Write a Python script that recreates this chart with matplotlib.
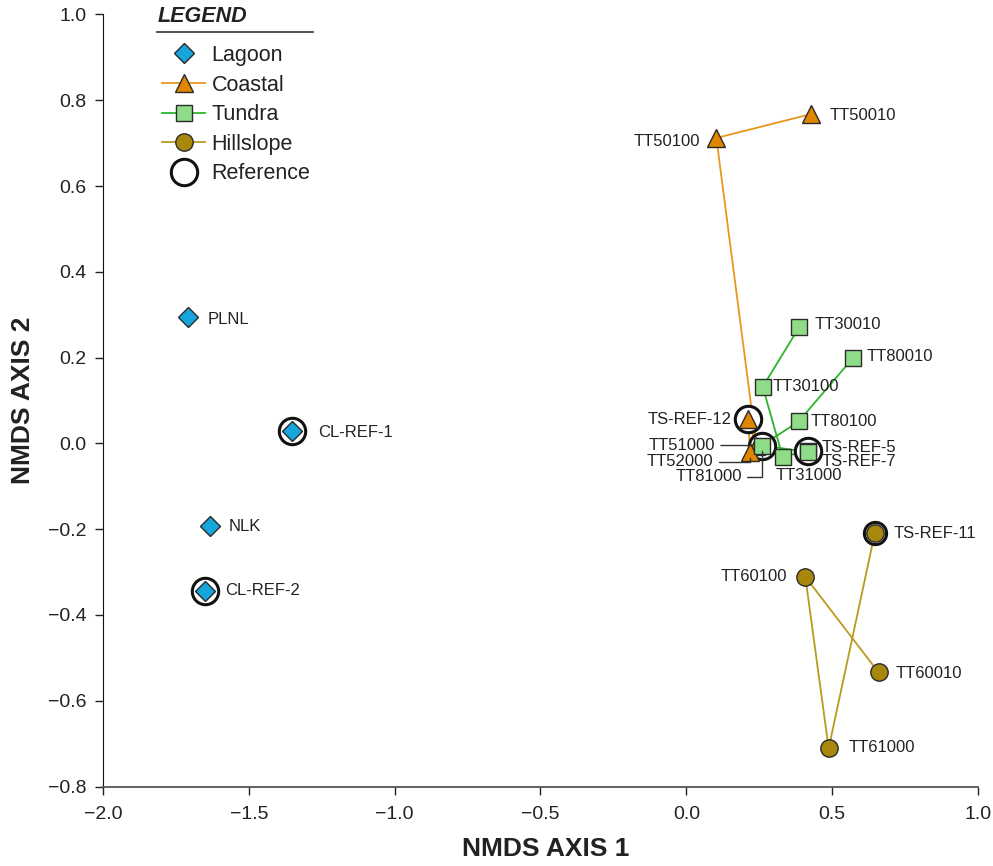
import matplotlib.pyplot as plt
from matplotlib.lines import Line2D

plt.rcParams['font.family'] = ['Liberation Sans', 'DejaVu Sans']

# NMDS site scores by habitat group
lagoon_sites = ['PLNL', 'CL-REF-1', 'NLK', 'CL-REF-2']
lagoon_x = [-1.707, -1.351, -1.632, -1.649]
lagoon_y = [0.295, 0.029, -0.192, -0.344]

coastal_sites = ['TT50010', 'TT50100', 'TT51000', 'TS-REF-12', 'TT52000']
coastal_x = [0.429, 0.103, 0.240, 0.211, 0.219]
coastal_y = [0.768, 0.712, -0.005, 0.056, -0.020]

tundra_sites = ['TT30010', 'TT30100', 'TT31000', 'TS-REF-5',
                'TT80010', 'TT80100', 'TT81000', 'TS-REF-7']
tundra_x = [0.388, 0.262, 0.330, 0.417, 0.570, 0.385, 0.259, 0.417]
tundra_y = [0.272, 0.132, -0.031, -0.018, 0.198, 0.051, -0.005, -0.020]

hill_sites = ['TT60010', 'TT60100', 'TT61000', 'TS-REF-11']
hill_x = [0.659, 0.408, 0.488, 0.646]
hill_y = [-0.534, -0.311, -0.711, -0.210]

# sites joined by lines (in order) within a group
coastal_chains = [['TT50010', 'TT50100', 'TT51000', 'TS-REF-12', 'TT52000']]
tundra_chains = [['TT30010', 'TT30100', 'TT31000', 'TS-REF-5'],
                 ['TT80010', 'TT80100', 'TT81000', 'TS-REF-7']]
hill_chains = [['TT60010', 'TT60100', 'TT61000', 'TS-REF-11']]

# sites circled as reference
circled = ['CL-REF-1', 'CL-REF-2', 'TS-REF-12', 'TS-REF-5', 'TT81000']

groups = [
    # name, sites, x, y, chains, marker, size, face, line colour
    ('Lagoon', lagoon_sites, lagoon_x, lagoon_y, [], 'D', 10.5, '#16a5dd', None),
    ('Coastal', coastal_sites, coastal_x, coastal_y, coastal_chains, '^', 13, '#e08600', '#e8961c'),
    ('Tundra', tundra_sites, tundra_x, tundra_y, tundra_chains, 's', 12, '#8fdc88', '#2cb52c'),
    ('Hillslope', hill_sites, hill_x, hill_y, hill_chains, 'o', 12.5, '#a8880c', '#b99b20'),
]

# label placement: offset in pixels and alignment
label_pos = {
    'PLNL': (19, -3, 'left'), 'CL-REF-1': (26, -2, 'left'),
    'NLK': (18, -1, 'left'), 'CL-REF-2': (20, 0, 'left'),
    'TT50010': (18, -2, 'left'), 'TT50100': (-16, -4, 'right'),
    'TT30010': (15, 2, 'left'), 'TT80010': (14, 2, 'left'),
    'TT30100': (10, 0, 'left'), 'TT80100': (12, 0, 'left'),
    'TS-REF-12': (-16, 0, 'right'), 'TS-REF-5': (14, 4, 'left'),
    'TS-REF-7': (14, -10, 'left'), 'TT31000': (26, -19, 'center'),
    'TT60100': (-18, 0, 'right'), 'TS-REF-11': (19, 0, 'left'),
    'TT60010': (17, -1, 'left'), 'TT61000': (20, 1, 'left'),
}
# labels tied to their point with a leader line
leader_pos = {
    'TT51000': (-41, 0, None),
    'TT52000': (-37, -10, 'angle,angleA=0,angleB=90,rad=0'),
    'TT81000': (-20, -31, 'angle,angleA=0,angleB=90,rad=0'),
}

fig = plt.figure(figsize=(9.93, 8.66), dpi=100)
ax = fig.add_axes([0.1037, 0.0918, 0.8812, 0.8915])

edge = '#2a2a2a'
lab_size = 12
coords = {}
for name, sites, xs, ys, chains, mk, ms, face, lc in groups:
    for s, x, y in zip(sites, xs, ys):
        coords[s] = (x, y)
    for chain in chains:
        ax.plot([coords[s][0] for s in chain], [coords[s][1] for s in chain],
                color=lc, lw=1.3, zorder=2)
    ax.plot(xs, ys, ls='none', marker=mk, ms=ms, mfc=face, mec=edge, mew=1.0, zorder=4)

# reference rings
ax.plot([coords[s][0] for s in circled], [coords[s][1] for s in circled],
        ls='none', marker='o', ms=19, mfc='white', mec='#111111', mew=2.2, zorder=3)
# TS-REF-11 ring sits tight on the marker
ax.plot(*coords['TS-REF-11'], marker='o', ms=16, mfc='white', mec='#111111', mew=2.2, zorder=3)

for s, (dx, dy, ha) in label_pos.items():
    ax.annotate(s, coords[s], xytext=(dx, dy), textcoords='offset pixels',
                ha=ha, va='center', fontsize=lab_size, color='#222222', zorder=6)

for s, (dx, dy, conn) in leader_pos.items():
    arrow = dict(arrowstyle='-', color='#333333', lw=1.0, shrinkA=2, shrinkB=4)
    if conn:
        arrow['connectionstyle'] = conn
    ax.annotate(s, coords[s], xytext=(dx, dy), textcoords='offset pixels',
                ha='right', va='center', fontsize=lab_size, color='#222222',
                arrowprops=arrow, zorder=6)

ax.set_xlim(-2.0, 1.0)
ax.set_ylim(-0.8, 1.0)
ax.set_xticks([-2.0, -1.5, -1.0, -0.5, 0.0, 0.5, 1.0])
ax.set_yticks([-0.8, -0.6, -0.4, -0.2, 0.0, 0.2, 0.4, 0.6, 0.8, 1.0])
fmt = plt.FuncFormatter(lambda v, p: f'{v:.1f}'.replace('-', '\u2212'))
ax.xaxis.set_major_formatter(fmt)
ax.yaxis.set_major_formatter(fmt)
ax.tick_params(direction='out', length=6, width=1.0, labelsize=14, colors='#222222')
ax.tick_params(axis='x', pad=8)
ax.tick_params(axis='y', pad=6)
for side in ['top', 'right']:
    ax.spines[side].set_visible(False)
ax.spines['left'].set_color('#111111')
ax.spines['bottom'].set_color('#555555')
ax.spines['bottom'].set_linewidth(1.3)
ax.set_xlabel('NMDS AXIS 1', fontsize=19, fontweight='bold', color='#222222')
ax.set_ylabel('NMDS AXIS 2', fontsize=19, fontweight='bold', color='#222222')
ax.xaxis.set_label_coords(0.506, -0.066)
ax.yaxis.set_label_coords(-0.078, 0.5)

# legend
handles = [
    Line2D([], [], ls='none', marker='D', ms=10.5, mfc='#16a5dd', mec=edge),
    Line2D([], [], color='#e8961c', lw=1.3, marker='^', ms=13, mfc='#e08600', mec=edge),
    Line2D([], [], color='#2cb52c', lw=1.3, marker='s', ms=12, mfc='#8fdc88', mec=edge),
    Line2D([], [], color='#b99b20', lw=1.3, marker='o', ms=12.5, mfc='#a8880c', mec=edge),
    Line2D([], [], ls='none', marker='o', ms=19, mfc='white', mec='#111111', mew=2.2),
]
leg = ax.legend(handles, ['Lagoon', 'Coastal', 'Tundra', 'Hillslope', 'Reference'],
                loc='upper left', bbox_to_anchor=(162 / 993, 1 - 45 / 866),
                bbox_transform=fig.transFigure, frameon=False, borderpad=0, borderaxespad=0,
                fontsize=15.5, handlelength=2.0, handletextpad=0.3, labelspacing=0.4)
for t in leg.get_texts():
    t.set_color('#222222')
fig.text(158 / 993, 1 - 17 / 866, 'LEGEND', fontsize=15.5, fontweight='bold', fontstyle='italic',
         color='#222222', va='center', ha='left')
fig.add_artist(Line2D([157 / 993, 313 / 993], [1 - 32 / 866, 1 - 32 / 866], color='#333333', lw=1.2))

fig.savefig('out.png', dpi=100)
